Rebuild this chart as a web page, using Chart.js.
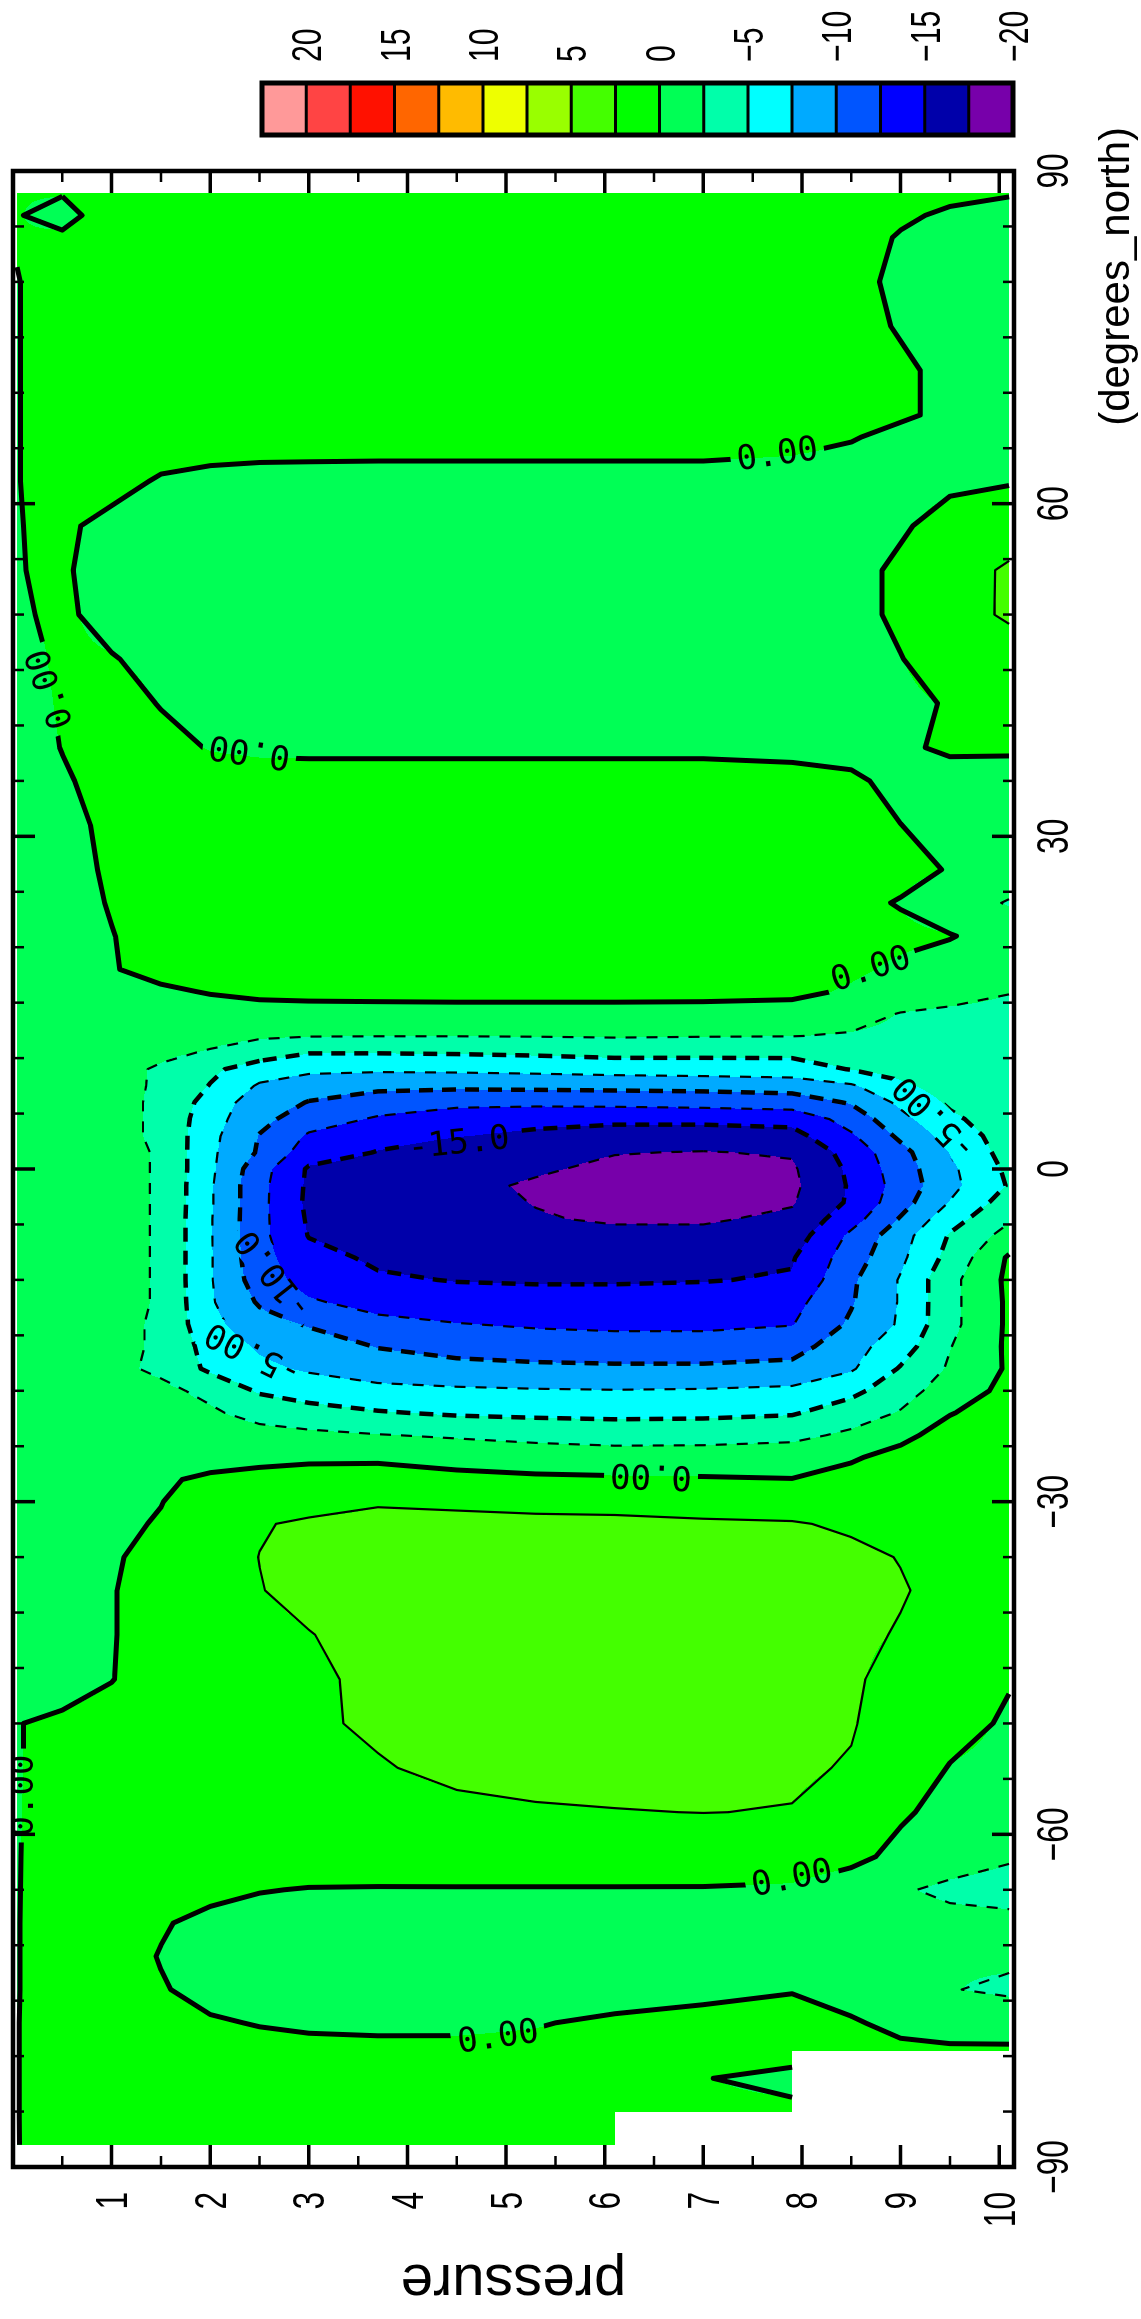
<!DOCTYPE html>
<html>
<head>
<meta charset="utf-8">
<script src="https://cdn.jsdelivr.net/npm/chart.js@4.4.0/dist/chart.umd.min.js"></script>
<style>
  html, body { margin: 0; padding: 0; width: 1141px; height: 2319px; overflow: hidden; background: #fff; }
  /* the plot is drawn landscape and turned a quarter turn, like the original */
  #wrap { position: absolute; left: 0; top: 0; width: 2319px; height: 1141px;
          transform-origin: 0 0; transform: translate(0px, 2319px) rotate(-90deg); }
</style>
</head>
<body>
<div id="wrap"><canvas id="chart" width="2319" height="1141"></canvas></div>
<script>
// grid: rows = latitude (north to south), columns = pressure
const latitudes = [88, 86, 84, 80, 76, 72, 68, 66, 62, 58, 54, 50, 46, 42, 38, 35, 31, 27, 24, 21,
  18, 16, 14, 12, 10.5, 9, 7.5, 6, 4.5, 3, 1.5, 0, -1.5, -3, -4.5, -6, -8, -10, -12, -14,
  -16, -18, -20, -22, -24, -26, -28, -30, -32, -35, -38, -42, -46, -50, -54, -58, -62, -65, -68, -71,
  -74, -77, -79.5, -80, -82, -85, -85.5, -88];
const pressureLevels = [0.04, 0.5, 1.0, 1.5, 2.0, 2.5, 3.0, 3.7, 4.5, 5.3, 6.1, 7.0, 7.9, 8.5, 9.0, 9.5, 10.1];

const fieldRows = [
  [0.1, 0.1, 1.0, 1.1, 1.2, 1.2, 1.2, 1.2, 1.2, 1.2, 1.2, 1.1, 1.0, 0.8, 0.5, 0.3, 0.1],
  [0.1, -0.6, 0.9, 1.1, 1.2, 1.2, 1.2, 1.2, 1.2, 1.2, 1.2, 1.1, 1.0, 0.7, 0.2, -0.2, -0.5],
  [0.1, 0.3, 1.0, 1.1, 1.2, 1.2, 1.2, 1.2, 1.2, 1.2, 1.2, 1.1, 0.9, 0.5, -0.1, -0.6, -0.9],
  [-0.05, 0.6, 1.0, 1.1, 1.2, 1.2, 1.2, 1.2, 1.2, 1.2, 1.1, 1.0, 0.8, 0.4, -0.3, -0.8, -1.0],
  [-0.05, 0.6, 1.0, 1.1, 1.2, 1.2, 1.2, 1.2, 1.2, 1.2, 1.1, 1.0, 0.8, 0.4, -0.1, -0.7, -1.0],
  [-0.05, 0.6, 1.0, 1.1, 1.2, 1.2, 1.2, 1.2, 1.2, 1.1, 1.0, 0.9, 0.7, 0.5, 0.2, -0.3, -0.8],
  [-0.05, 0.6, 1.0, 1.1, 1.1, 1.1, 1.0, 1.0, 1.0, 0.9, 0.8, 0.7, 0.6, 0.4, 0.2, -0.3, -0.8],
  [-0.05, 0.6, 1.0, 1.0, 0.9, 0.8, 0.75, 0.7, 0.7, 0.7, 0.7, 0.7, 0.5, 0.1, -0.4, -0.8, -1.0],
  [-0.05, 0.6, 0.6, -0.2, -0.5, -0.6, -0.6, -0.6, -0.6, -0.6, -0.6, -0.6, -0.7, -0.8, -0.6, -0.3, -0.1],
  [-0.05, 0.3, -0.5, -0.9, -1.0, -1.0, -1.0, -1.0, -1.0, -1.0, -1.0, -1.0, -1.0, -0.8, -0.2, 0.6, 1.0],
  [-0.05, 0.2, -0.7, -1.0, -1.0, -1.0, -1.0, -1.0, -1.0, -1.0, -1.0, -1.0, -0.9, -0.5, 0.3, 1.2, 2.9],
  [-0.2, 0.3, -0.6, -1.0, -1.0, -1.0, -1.0, -1.0, -1.0, -1.0, -1.0, -1.0, -0.9, -0.5, 0.3, 1.3, 2.9],
  [-0.6, 0.3, 0.1, -0.5, -1.0, -1.0, -1.0, -1.0, -1.0, -1.0, -1.0, -1.0, -0.9, -0.6, -0.05, 0.8, 1.0],
  [-0.8, 0.2, 0.8, -0.1, -0.8, -1.0, -1.0, -1.0, -1.0, -1.0, -1.0, -1.0, -0.9, -0.7, -0.3, 0.1, 0.6],
  [-0.8, 0.05, 1.0, 0.6, -0.1, -0.3, -0.3, -0.3, -0.3, -0.3, -0.3, -0.3, -0.4, -0.6, -0.3, 0.3, 0.2],
  [-0.9, -0.2, 0.6, 0.9, 0.8, 0.7, 0.6, 0.6, 0.6, 0.6, 0.6, 0.6, 0.5, 0.3, -0.5, -0.8, -0.6],
  [-1.0, -0.4, 0.3, 0.8, 1.0, 1.1, 1.1, 1.1, 1.1, 1.1, 1.1, 1.1, 1.0, 0.6, 0.02, -0.6, -0.8],
  [-1.0, -0.5, 0.2, 0.8, 1.0, 1.1, 1.2, 1.2, 1.2, 1.2, 1.2, 1.1, 1.0, 0.8, 0.5, -0.1, -0.9],
  [-1.0, -0.6, 0.1, 0.7, 1.0, 1.1, 1.1, 1.1, 1.1, 1.1, 1.1, 1.0, 0.9, 0.4, -0.1, -1.2, -2.7],
  [-1.0, -0.7, -0.05, 0.6, 0.9, 1.0, 1.0, 1.0, 1.0, 1.0, 1.0, 0.9, 0.8, 0.6, 0.4, 0.1, -0.8],
  [-1.0, -0.8, -0.1, 0.5, 0.8, 0.9, 0.9, 0.9, 0.9, 0.9, 0.9, 0.8, 0.7, 0.3, -0.3, -0.9, -1.8],
  [-1.0, -0.9, -0.6, -0.25, 0.1, 0.35, 0.45, 0.5, 0.55, 0.55, 0.55, 0.5, 0.4, -0.2, -0.9, -1.5, -2.4],
  [-1.0, -1.0, -0.9, -0.8, -0.7, -0.6, -0.6, -0.6, -0.6, -0.6, -0.6, -0.6, -0.7, -1.6, -2.6, -3.0, -3.2],
  [-1.0, -1.1, -1.2, -1.4, -1.8, -2.2, -2.4, -2.45, -2.45, -2.4, -2.3, -2.4, -2.45, -2.7, -3.0, -3.3, -3.6],
  [-1.0, -1.2, -1.5, -2.0, -2.7, -3.8, -4.9, -4.9, -4.8, -4.6, -4.3, -4.4, -4.5, -4.0, -3.6, -3.6, -3.8],
  [-1.0, -1.3, -1.7, -2.8, -4.5, -6.2, -6.9, -7.1, -7.0, -6.8, -6.5, -6.3, -6.0, -4.9, -4.0, -3.5, -3.5],
  [-1.0, -1.3, -1.8, -2.8, -5.1, -7.8, -9.0, -9.4, -9.5, -9.4, -9.3, -9.2, -9.0, -7.8, -5.5, -3.8, -3.2],
  [-1.0, -1.3, -1.8, -2.9, -6.0, -8.9, -10.1, -11.2, -11.8, -11.9, -11.8, -11.6, -11.2, -9.8, -7.0, -4.6, -3.2],
  [-1.0, -1.3, -1.8, -2.9, -6.5, -9.3, -11.3, -12.8, -14.0, -14.4, -14.5, -14.4, -14.2, -11.5, -8.2, -5.5, -3.5],
  [-1.0, -1.3, -1.8, -2.9, -6.8, -10.1, -12.8, -14.2, -14.9, -15.4, -16.0, -16.2, -15.8, -12.8, -9.5, -6.5, -3.8],
  [-1.0, -1.3, -1.8, -2.7, -7.0, -10.3, -13.8, -15.1, -16.0, -16.8, -17.4, -17.6, -17.3, -14.0, -10.8, -7.4, -4.0],
  [-1.0, -1.3, -1.8, -2.7, -7.0, -11.5, -15.3, -16.0, -16.8, -17.2, -18.0, -18.6, -17.8, -14.5, -11.2, -8.0, -4.5],
  [-1.0, -1.3, -1.8, -2.7, -7.2, -11.8, -15.4, -16.3, -16.9, -17.8, -19.0, -19.4, -18.0, -14.7, -11.5, -8.2, -4.8],
  [-1.0, -1.3, -1.8, -2.7, -7.2, -11.8, -15.5, -16.3, -16.6, -17.6, -18.6, -19.0, -17.7, -14.6, -11.0, -7.4, -3.8],
  [-1.0, -1.3, -1.8, -2.7, -7.3, -11.8, -15.3, -16.2, -16.6, -17.3, -17.8, -17.8, -17.0, -13.5, -9.8, -6.0, -2.8],
  [-1.0, -1.3, -1.8, -2.7, -7.3, -11.8, -15.1, -16.0, -16.4, -16.7, -16.9, -16.9, -16.3, -12.0, -8.5, -4.8, -1.6],
  [-1.0, -1.3, -1.8, -2.7, -7.3, -11.6, -14.2, -15.4, -15.8, -16.0, -16.1, -16.0, -15.2, -11.2, -8.0, -4.2, 0.3],
  [-1.0, -1.3, -1.8, -2.7, -7.3, -11.2, -13.5, -14.7, -15.1, -15.2, -15.2, -15.1, -14.8, -10.4, -7.3, -3.2, 0.5],
  [-1.0, -1.3, -1.8, -2.7, -7.2, -10.3, -12.2, -13.4, -14.0, -14.2, -14.2, -14.0, -13.3, -10.2, -7.3, -3.2, 0.4],
  [-1.0, -1.3, -1.9, -2.8, -6.8, -9.0, -10.2, -11.8, -12.4, -12.8, -13.0, -13.0, -12.6, -9.6, -7.2, -3.2, 0.4],
  [-1.0, -1.3, -1.9, -2.8, -6.0, -7.8, -8.8, -10.1, -10.8, -11.2, -11.4, -11.4, -11.0, -8.4, -6.2, -2.6, 0.4],
  [-1.0, -1.3, -2.0, -2.9, -5.5, -7.0, -7.8, -8.8, -9.3, -9.5, -9.6, -9.6, -9.3, -7.8, -4.8, -2.2, 0.3],
  [-1.0, -1.3, -1.8, -2.0, -3.0, -5.3, -6.2, -6.8, -7.1, -7.3, -7.4, -7.3, -7.0, -5.6, -3.6, -1.2, 0.6],
  [-1.0, -1.3, -1.7, -1.9, -2.2, -3.2, -4.0, -4.8, -5.3, -5.5, -5.6, -5.5, -5.2, -3.8, -2.3, -0.1, 1.0],
  [-1.0, -1.2, -1.4, -1.5, -1.6, -1.8, -2.0, -2.4, -2.8, -3.2, -3.5, -3.5, -3.2, -2.0, -0.5, 0.8, 1.3],
  [-1.0, -1.1, -1.2, -1.2, -0.9, -0.5, -0.3, -0.3, -0.8, -1.2, -1.4, -1.3, -1.0, -0.2, 0.6, 1.2, 1.4],
  [-1.0, -0.9, -0.7, -0.3, 0.4, 0.6, 0.7, 0.8, 0.6, 0.4, 0.3, 0.2, 0.05, 0.6, 1.2, 1.5, 1.6],
  [-1.0, -0.8, -0.4, -0.05, 0.9, 1.5, 2.0, 2.4, 2.3, 2.2, 2.2, 2.0, 1.8, 1.6, 1.5, 1.5, 1.5],
  [-1.0, -0.8, -0.4, 0.15, 1.5, 2.4, 2.7, 2.8, 2.8, 2.75, 2.7, 2.65, 2.6, 2.3, 1.8, 1.6, 1.5],
  [-1.0, -0.8, -0.2, 0.6, 1.8, 2.52, 2.9, 3.1, 3.2, 3.2, 3.2, 3.1, 3.0, 2.8, 2.45, 1.9, 1.6],
  [-1.0, -0.8, -0.1, 0.8, 1.9, 2.45, 2.9, 3.3, 3.4, 3.4, 3.4, 3.3, 3.2, 3.0, 2.6, 2.1, 1.7],
  [-1.0, -0.8, -0.1, 0.8, 1.6, 2.1, 2.45, 3.0, 3.4, 3.5, 3.5, 3.4, 3.2, 2.8, 2.4, 1.8, 1.2],
  [-1.0, -0.7, -0.05, 0.8, 1.5, 1.9, 2.3, 2.75, 3.1, 3.3, 3.3, 3.2, 3.0, 2.7, 2.0, 1.0, 0.15],
  [-0.05, 0.3, 0.6, 1.2, 1.6, 1.9, 2.3, 2.7, 3.0, 3.2, 3.2, 3.1, 2.9, 2.6, 1.8, 0.8, -0.3],
  [-0.05, 0.3, 0.8, 1.2, 1.5, 1.8, 2.0, 2.4, 2.8, 3.0, 3.0, 2.9, 2.7, 2.4, 1.3, -0.1, -0.6],
  [-0.05, 0.4, 0.9, 1.2, 1.4, 1.6, 1.8, 2.0, 2.2, 2.35, 2.45, 2.52, 2.45, 2.0, 0.3, -0.7, -1.0],
  [-0.05, 0.5, 0.9, 1.1, 1.2, 1.3, 1.3, 1.4, 1.5, 1.5, 1.5, 1.4, 1.2, 0.6, -0.6, -1.6, -2.3],
  [-0.05, 0.6, 1.0, 1.0, 0.6, 0.1, -0.1, -0.15, -0.15, -0.15, -0.15, -0.15, -0.3, -1.2, -2.3, -2.9, -3.2],
  [-0.05, 0.7, 1.0, 0.2, -0.6, -0.9, -1.0, -1.0, -1.0, -1.0, -1.0, -1.0, -1.0, -1.3, -1.7, -1.9, -2.0],
  [-0.05, 0.7, 0.9, -0.1, -0.8, -1.0, -1.1, -1.1, -1.1, -1.1, -1.1, -1.1, -1.1, -1.4, -1.9, -2.3, -2.1],
  [-0.05, 0.7, 1.0, 0.15, -0.6, -0.9, -1.0, -1.0, -1.0, -0.9, -0.8, -0.5, -0.1, -0.8, -2.0, -2.4, -2.9],
  [-0.05, 0.9, 1.2, 0.7, 0.2, -0.1, -0.3, -0.35, -0.3, -0.1, 0.3, 0.6, 0.7, 0.2, -0.5, -0.9, -1.0],
  [-0.05, 0.9, 1.2, 1.0, 0.8, 0.6, 0.5, 0.4, 0.35, 0.4, 0.6, 0.7, 0.6, 0.5, 0.4, 0.3, 0.3],
  [-0.05, 0.9, 1.2, 1.0, 0.8, 0.7, 0.6, 0.5, 0.45, 0.5, 0.6, 0.5, 0.4, null, null, null, null],
  [-0.05, 0.9, 1.2, 1.0, 0.8, 0.7, 0.6, 0.5, 0.5, 0.5, 0.4, 0.05, -0.4, null, null, null, null],
  [-0.05, 0.9, 1.2, 1.0, 0.8, 0.7, 0.6, 0.5, 0.5, 0.5, 0.4, 0.3, 0.3, null, null, null, null],
  [-0.05, 0.9, 1.2, 1.0, 0.8, 0.7, 0.6, 0.5, 0.5, 0.4, 0.3, null, null, null, null, null, null],
  [-0.05, 0.8, 1.1, 0.9, 0.7, 0.6, 0.5, 0.4, 0.4, 0.3, 0.1, null, null, null, null, null, null]
];

const contourLevels = [2.5, 0, -2.5, -5, -7.5, -10, -12.5, -15, -17.5];
const bandLevels = [20, 17.5, 15, 12.5, 10, 7.5, 5, 2.5, 0, -2.5, -5, -7.5, -10, -12.5, -15, -17.5];
const bandColors = ['#ff9999', '#ff4444', '#ff1100', '#ff6600', '#ffbb00', '#eeff00', '#99ff00', '#44ff00',
  '#00ff00', '#00ff55', '#00ffaa', '#00ffff', '#00aaff', '#0055ff', '#0000ff', '#0000aa', '#7700aa'];

const pressureTicks = [1, 2, 3, 4, 5, 6, 7, 8, 9, 10];
const pressureTickLabels = ['1', '2', '3', '4', '5', '6', '7', '8', '9', '10'];
const latTicks = [-90, -60, -30, 0, 30, 60, 90];
const latTickLabels = ['\u221290', '\u221260', '\u221230', '0', '30', '60', '90'];
const colorbarTop = 22.5;
const colorbarValues = [20, 15, 10, 5, 0, -5, -10, -15, -20];
const colorbarLabels = ['20', '15', '10', '5', '0', '\u22125', '\u221210', '\u221215', '\u221220'];

// line labels (text, latitude, pressure, angle in degrees)
const lineLabels = [
  ['0.00', 64.4, 7.75, 82], ['0.00', 37.7, 2.4, -82], ['0.00', 43.3, 0.38, -19],
  ['0.00', 18.0, 8.7, 72], ['-5.00', 4.6, 9.35, -44], ['-15.0', 2.3, 4.52, 84],
  ['-10.0', -9.5, 2.65, -38], ['-5.00', -16.6, 2.44, -64], ['0.00', -27.6, 6.47, -88],
  ['0.00', -64.0, 7.9, 79], ['0.00', -78.3, 4.92, 82], ['0.00', -56.5, 0.1, 0]
];

function bandIndex(v) {
  for (let k = 0; k < bandLevels.length; k++) if (v >= bandLevels[k]) return k;
  return bandLevels.length;
}

function drawField(chart) {
  const ctx = chart.ctx, a = chart.chartArea, xs = chart.scales.x, ys = chart.scales.y;
  const x0 = Math.round(a.left), x1 = Math.round(a.right), y0 = Math.round(a.top), y1 = Math.round(a.bottom);
  const w = x1 - x0, h = y1 - y0;
  const img = ctx.createImageData(w, h);
  const rgb = bandColors.map(c => [parseInt(c.slice(1, 3), 16), parseInt(c.slice(3, 5), 16), parseInt(c.slice(5, 7), 16)]);
  const nR = latitudes.length, nC = pressureLevels.length;
  const ri = new Int32Array(w), rt = new Float64Array(w);
  for (let i = 0; i < w; i++) {
    const lat = xs.getValueForPixel(x0 + i + 0.5);
    ri[i] = -1;
    for (let k = 0; k < nR - 1; k++) {
      if (lat <= latitudes[k] && lat >= latitudes[k + 1]) {
        ri[i] = k; rt[i] = (latitudes[k] - lat) / (latitudes[k] - latitudes[k + 1]); break;
      }
    }
  }
  const ci = new Int32Array(h), ct = new Float64Array(h);
  for (let j = 0; j < h; j++) {
    const p = ys.getValueForPixel(y0 + j + 0.5);
    ci[j] = -1;
    for (let k = 0; k < nC - 1; k++) {
      if (p >= pressureLevels[k] && p <= pressureLevels[k + 1]) {
        ci[j] = k; ct[j] = (p - pressureLevels[k]) / (pressureLevels[k + 1] - pressureLevels[k]); break;
      }
    }
  }
  const d = img.data;
  for (let y = 0; y < h; y++) {
    const j = ci[y], tc = ct[y];
    for (let x = 0; x < w; x++) {
      const o = (y * w + x) * 4;
      const i = ri[x];
      let col = null;
      if (i >= 0 && j >= 0) {
        const r0 = fieldRows[i], r1 = fieldRows[i + 1];
        const a00 = r0[j], a01 = r0[j + 1], a10 = r1[j], a11 = r1[j + 1];
        if (a00 !== null && a01 !== null && a10 !== null && a11 !== null) {
          const tr = rt[x];
          const v = (1 - tr) * ((1 - tc) * a00 + tc * a01) + tr * ((1 - tc) * a10 + tc * a11);
          col = rgb[bandIndex(v)];
        }
      }
      if (col) { d[o] = col[0]; d[o + 1] = col[1]; d[o + 2] = col[2]; }
      else { d[o] = 255; d[o + 1] = 255; d[o + 2] = 255; }
      d[o + 3] = 255;
    }
  }
  ctx.putImageData(img, x0, y0);
}

// marching squares, segments joined into polylines
function traceLevel(L) {
  const V = fieldRows, segs = [], pts = {};
  const nR = latitudes.length, nC = pressureLevels.length;
  function rowEdge(i, j) {
    const k = 'r' + i + '_' + j;
    if (!pts[k]) {
      const v1 = V[i][j], v2 = V[i][j + 1], t = (L - v1) / (v2 - v1);
      pts[k] = [latitudes[i], pressureLevels[j] + t * (pressureLevels[j + 1] - pressureLevels[j])];
    }
    return k;
  }
  function colEdge(i, j) {
    const k = 'c' + i + '_' + j;
    if (!pts[k]) {
      const v1 = V[i][j], v2 = V[i + 1][j], t = (L - v1) / (v2 - v1);
      pts[k] = [latitudes[i] + t * (latitudes[i + 1] - latitudes[i]), pressureLevels[j]];
    }
    return k;
  }
  for (let i = 0; i < nR - 1; i++) {
    for (let j = 0; j < nC - 1; j++) {
      const a = V[i][j], b = V[i][j + 1], c = V[i + 1][j + 1], d = V[i + 1][j];
      if (a === null || b === null || c === null || d === null) continue;
      const code = (a >= L ? 8 : 0) | (b >= L ? 4 : 0) | (c >= L ? 2 : 0) | (d >= L ? 1 : 0);
      if (code === 0 || code === 15) continue;
      const T = () => rowEdge(i, j), R = () => colEdge(i, j + 1), B = () => rowEdge(i + 1, j), Lf = () => colEdge(i, j);
      if (code === 10 || code === 5) {
        const hi = (a + b + c + d) / 4 >= L;
        if ((code === 10) === hi) { segs.push([T(), R()]); segs.push([B(), Lf()]); }
        else { segs.push([Lf(), T()]); segs.push([R(), B()]); }
        continue;
      }
      const e = [];
      if ((a >= L) !== (b >= L)) e.push(T());
      if ((b >= L) !== (c >= L)) e.push(R());
      if ((d >= L) !== (c >= L)) e.push(B());
      if ((a >= L) !== (d >= L)) e.push(Lf());
      segs.push([e[0], e[1]]);
    }
  }
  const adj = new Map();
  segs.forEach((s, n) => s.forEach(k => { if (!adj.has(k)) adj.set(k, []); adj.get(k).push(n); }));
  const used = new Array(segs.length).fill(false);
  const lines = [];
  for (let s = 0; s < segs.length; s++) {
    if (used[s]) continue;
    used[s] = true;
    const line = [segs[s][0], segs[s][1]];
    for (const dir of [1, -1]) {
      let grow = true;
      while (grow) {
        grow = false;
        const end = dir === 1 ? line[line.length - 1] : line[0];
        for (const n of adj.get(end)) {
          if (used[n]) continue;
          used[n] = true;
          const other = segs[n][0] === end ? segs[n][1] : segs[n][0];
          if (dir === 1) line.push(other); else line.unshift(other);
          grow = true;
          break;
        }
      }
    }
    lines.push(line.map(k => pts[k]));
  }
  return lines;
}

function labelBox(chart, lab) {
  const ctx = chart.ctx;
  ctx.font = '34px "DejaVu Sans Mono"';
  const w = ctx.measureText(lab[0]).width;
  return {
    x: chart.scales.x.getPixelForValue(lab[1]),
    y: chart.scales.y.getPixelForValue(lab[2]),
    th: lab[3] * Math.PI / 180, hw: w / 2 + 6, hh: 17
  };
}

function drawContours(chart) {
  const ctx = chart.ctx, a = chart.chartArea, xs = chart.scales.x, ys = chart.scales.y;
  ctx.save();
  ctx.beginPath();
  ctx.rect(a.left, a.top, a.right - a.left, a.bottom - a.top);
  lineLabels.forEach(lab => {
    const b = labelBox(chart, lab), c = Math.cos(b.th), s = Math.sin(b.th);
    [[-b.hw, -b.hh], [b.hw, -b.hh], [b.hw, b.hh], [-b.hw, b.hh]].forEach(([u, v], n) => {
      const px = b.x + u * c - v * s, py = b.y + u * s + v * c;
      if (n === 0) ctx.moveTo(px, py); else ctx.lineTo(px, py);
    });
    ctx.closePath();
  });
  ctx.clip('evenodd');
  ctx.strokeStyle = '#000';
  ctx.lineJoin = 'round';
  contourLevels.forEach(L => {
    const major = L === 0 || L % 5 === 0;
    ctx.lineWidth = L === 0 ? 5 : (major ? 4.5 : 2.2);
    ctx.setLineDash(L < 0 ? (major ? [14, 9] : [11, 10]) : []);
    traceLevel(L).forEach(line => {
      ctx.beginPath();
      line.forEach((pt, n) => {
        const px = xs.getPixelForValue(pt[0]), py = ys.getPixelForValue(pt[1]);
        if (n === 0) ctx.moveTo(px, py); else ctx.lineTo(px, py);
      });
      ctx.stroke();
    });
  });
  ctx.restore();
  // labels, kept inside the plot frame
  ctx.save();
  ctx.beginPath();
  ctx.rect(a.left, a.top, a.right - a.left, a.bottom - a.top);
  ctx.clip();
  ctx.fillStyle = '#000';
  ctx.font = '34px "DejaVu Sans Mono"';
  ctx.textAlign = 'center';
  ctx.textBaseline = 'middle';
  lineLabels.forEach(lab => {
    const b = labelBox(chart, lab);
    ctx.save();
    ctx.translate(b.x, b.y);
    ctx.rotate(b.th);
    ctx.fillText(lab[0], 0, 1);
    ctx.restore();
  });
  ctx.restore();
}

function narrowText(ctx, text, x, y, align, size) {
  ctx.save();
  ctx.translate(x, y);
  ctx.scale(0.72, 1);
  ctx.font = size + 'px "Liberation Sans"';
  ctx.textAlign = align;
  ctx.textBaseline = 'alphabetic';
  ctx.fillText(text, 0, 0);
  ctx.restore();
}

function drawAxes(chart) {
  const ctx = chart.ctx, a = chart.chartArea, xs = chart.scales.x, ys = chart.scales.y;
  ctx.save();
  ctx.strokeStyle = '#000';
  ctx.fillStyle = '#000';
  ctx.setLineDash([]);
  // latitude ticks on both pressure edges
  for (let lat = -85; lat <= 85; lat += 5) {
    const x = xs.getPixelForValue(lat), big = lat % 30 === 0, len = big ? 22 : 11;
    ctx.lineWidth = big ? 3.5 : 2.5;
    ctx.beginPath();
    ctx.moveTo(x, a.top); ctx.lineTo(x, a.top + len);
    ctx.moveTo(x, a.bottom); ctx.lineTo(x, a.bottom - len);
    ctx.stroke();
  }
  // pressure ticks on both latitude edges
  for (let p = 0.5; p <= 10; p += 0.5) {
    const y = ys.getPixelForValue(p), big = p % 1 === 0, len = big ? 22 : 11;
    ctx.lineWidth = big ? 3.5 : 2.5;
    ctx.beginPath();
    ctx.moveTo(a.left, y); ctx.lineTo(a.left + len, y);
    ctx.moveTo(a.right, y); ctx.lineTo(a.right - len, y);
    ctx.stroke();
  }
  ctx.lineWidth = 4.5;
  ctx.strokeRect(a.left, a.top, a.right - a.left, a.bottom - a.top);

  pressureTicks.forEach((p, n) => narrowText(ctx, pressureTickLabels[n], a.left - 25, ys.getPixelForValue(p) + 15.5, 'right', 44));
  latTicks.forEach((lat, n) => narrowText(ctx, latTickLabels[n], xs.getPixelForValue(lat), a.bottom + 54, 'center', 44));

  ctx.font = '42px "Liberation Sans"';
  ctx.textAlign = 'right';
  ctx.textBaseline = 'alphabetic';
  ctx.fillText('(degrees_north)', a.right + 44, a.bottom + 115);

  ctx.save();
  ctx.translate(54, (a.top + a.bottom) / 2);
  ctx.rotate(-Math.PI / 2);
  ctx.font = '58px "Liberation Sans"';
  ctx.textAlign = 'center';
  ctx.fillText('pressure', 0, 0);
  ctx.restore();

  // colour bar
  const bl = 2184, br = 2236, bt = 262, bb = a.bottom - 1;
  const span = colorbarTop - colorbarValues[colorbarValues.length - 1];
  const yOf = v => bt + (colorbarTop - v) / span * (bb - bt);
  bandColors.forEach((c, k) => {
    const t = yOf(colorbarTop - 2.5 * k), b = yOf(colorbarTop - 2.5 * (k + 1));
    ctx.fillStyle = c;
    ctx.fillRect(bl, t, br - bl, b - t);
  });
  ctx.strokeStyle = '#000';
  ctx.lineWidth = 3;
  for (let k = 1; k < bandColors.length; k++) {
    const y = yOf(colorbarTop - 2.5 * k);
    ctx.beginPath(); ctx.moveTo(bl, y); ctx.lineTo(br, y); ctx.stroke();
  }
  ctx.lineWidth = 5;
  ctx.strokeRect(bl, bt, br - bl, bb - bt);
  ctx.fillStyle = '#000';
  colorbarValues.forEach((v, n) => narrowText(ctx, colorbarLabels[n], 2257, yOf(v) + 15, 'left', 42));
  ctx.restore();
}

const contourPlugin = {
  id: 'contourField',
  beforeDraw(chart) {
    const ctx = chart.ctx;
    ctx.save();
    ctx.fillStyle = '#fff';
    ctx.fillRect(0, 0, chart.width, chart.height);
    ctx.restore();
  },
  beforeDatasetsDraw(chart) { drawField(chart); },
  afterDatasetsDraw(chart) { drawContours(chart); drawAxes(chart); }
};

const gridPoints = [];
latitudes.forEach((lat, i) => pressureLevels.forEach((p, j) => {
  if (fieldRows[i][j] !== null) gridPoints.push({ x: lat, y: p });
}));

const chart = new Chart(document.getElementById('chart'), {
  type: 'scatter',
  data: { datasets: [{ label: 'field', data: gridPoints, pointRadius: 0, showLine: false }] },
  options: {
    responsive: false,
    animation: false,
    devicePixelRatio: 1,
    events: [],
    layout: { padding: { left: 152, right: 171, top: 13, bottom: 127 } },
    plugins: { legend: { display: false }, tooltip: { enabled: false } },
    scales: {
      x: { type: 'linear', min: -90, max: 90, display: false },
      y: { type: 'linear', min: 0, max: 10.15, reverse: true, display: false }
    }
  },
  plugins: [contourPlugin]
});
</script>
</body>
</html>
